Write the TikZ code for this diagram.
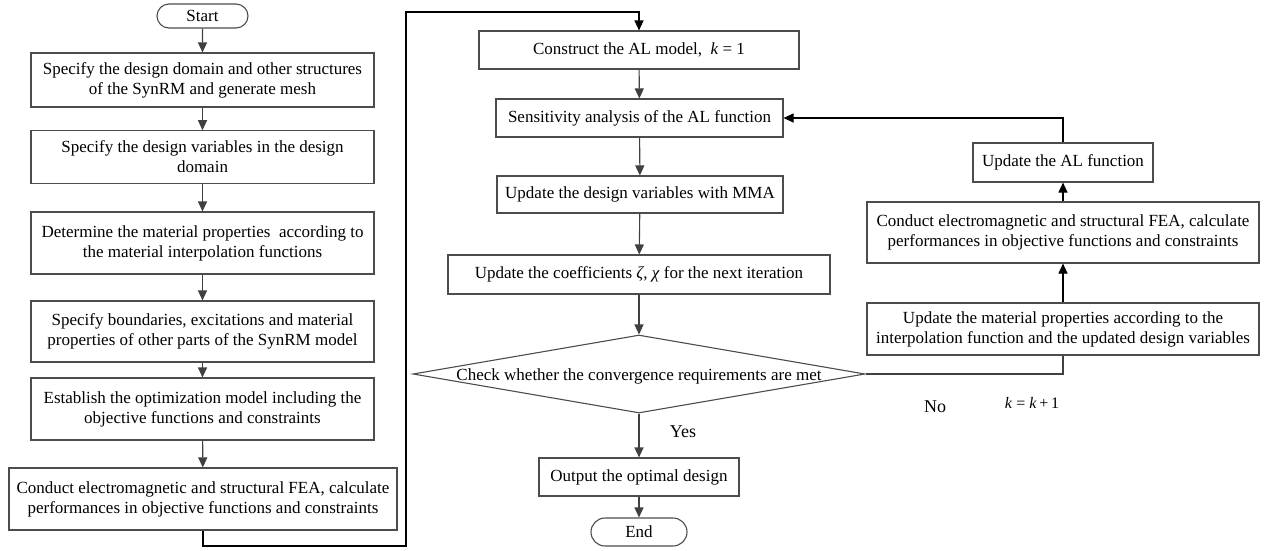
\documentclass[tikz,border=0pt]{standalone}
\usepackage{fontspec}
\setmainfont{Liberation Serif}
\usetikzlibrary{arrows.meta,shapes.geometric,shapes.misc}
\begin{document}
\begin{tikzpicture}[x=1pt,y=-1pt,
 box/.style={draw=black!70, line width=1.1pt, align=center, inner sep=0pt, font=\fontsize{17}{20}\selectfont},
 term/.style={box, rounded rectangle},
 arr/.style={draw=black!75, line width=1.1pt, -{Triangle[length=10pt,width=9pt]}},
 ln/.style={draw=black!75, line width=1.1pt},
 txt/.style={align=center, inner sep=0pt, font=\fontsize{17}{20}\selectfont},
 lab/.style={inner sep=0pt, font=\fontsize{18}{20}\selectfont},
 mth/.style={inner sep=0pt, font=\fontsize{16}{18}\selectfont}
]
\useasboundingbox (0,0) rectangle (1267,550);

% left column
\node[term, minimum width=91pt, minimum height=24pt] (start) at (202.5,16) {Start};
\node[box, minimum width=343pt, minimum height=54pt] (b1) at (202.5,80) {Specify the design domain and other structures\\of the SynRM and generate mesh};
\node[box, minimum width=343pt, minimum height=52.5pt] (b2) at (202.5,157) {Specify the design variables in the design\\domain};
\node[box, minimum width=343pt, minimum height=62pt] (b3) at (202.5,243) {Determine the material properties\ \ according to\\the material interpolation functions};
\node[box, minimum width=343pt, minimum height=61pt] (b4) at (202.5,331.5) {Specify boundaries, excitations and material\\properties of other parts of the SynRM model};
\node[box, minimum width=343pt, minimum height=62pt] (b5) at (202.5,409) {Establish the optimization model including the\\objective functions and constraints};
\node[box, minimum width=388pt, minimum height=62pt] (b6) at (203,499) {Conduct electromagnetic and structural FEA, calculate\\performances in objective functions and constraints};

% middle column
\node[box, minimum width=320pt, minimum height=38pt] (m1) at (639,50) {Construct the AL model,\ \ \textit{k} = 1};
\node[box, minimum width=287pt, minimum height=38pt] (m2) at (639.5,118) {Sensitivity analysis of the AL function};
\node[box, minimum width=286pt, minimum height=37pt] (m3) at (640,194.5) {Update the design variables with MMA};
\node[box, minimum width=382pt, minimum height=39pt] (m4) at (639,274.5) {Update the coefficients \textit{ζ}, \textit{χ} for the next iteration};
\node[draw=black!70, line width=1.1pt, diamond, inner sep=0pt, minimum width=452pt, minimum height=78pt] (d) at (639,374) {};
\node[txt] (dt) at (639,376) {Check whether the convergence requirements are met};
\node[box, minimum width=200pt, minimum height=38pt] (out) at (639,477) {Output the optimal design};
\node[term, minimum width=96pt, minimum height=28pt] (end) at (639,532) {End};
\node[lab] (yes) at (683,432) {Yes};

% right column
\node[box, minimum width=180pt, minimum height=39pt] (r1) at (1063,162.5) {Update the AL function};
\node[box, minimum width=392pt, minimum height=61pt] (r2) at (1063,232.5) {Conduct electromagnetic and structural FEA, calculate\\performances in objective functions and constraints};
\node[box, minimum width=392pt, minimum height=52pt] (r3) at (1063,329) {Update the material properties according to the\\interpolation function and the updated design variables};
\node[lab] (no) at (935,407) {No};
\node[mth] (kk) at (1032,403) {\textit{k} = \textit{k}\,+\,1};

% connectors left
\draw[arr] (start) -- (b1);
\draw[arr] (b1) -- (b2);
\draw[arr] (b2) -- (b3);
\draw[arr] (b3) -- (b4);
\draw[arr] (b4) -- (b5);
\draw[arr] (b5) -- (b6);
\coordinate (c1) at (203,546);
\coordinate (c2) at (406,546);
\coordinate (c3) at (406,12);
\coordinate (c4) at (639,12);
\draw[arr, draw=black] (b6.south) -- (c1) -- (c2) -- (c3) -- (c4) -- (m1.north);

% connectors middle
\draw[arr] (m1) -- (m2);
\draw[arr] (m2) -- (m3);
\draw[arr] (m3) -- (m4);
\draw[arr] (m4.south) -- (d.north);
\draw[arr] (d.south) -- (out.north);
\draw[arr] (out) -- (end);

% loop
\coordinate (c5) at (1063,374);
\draw[ln] (d.east) -- (c5) -- (r3.south);
\draw[arr, draw=black] (r3) -- (r2);
\draw[arr, draw=black] (r2) -- (r1);
\coordinate (c6) at (1063,118);
\draw[arr, draw=black] (r1.north) -- (c6) -- (m2.east);
\end{tikzpicture}
\end{document}
